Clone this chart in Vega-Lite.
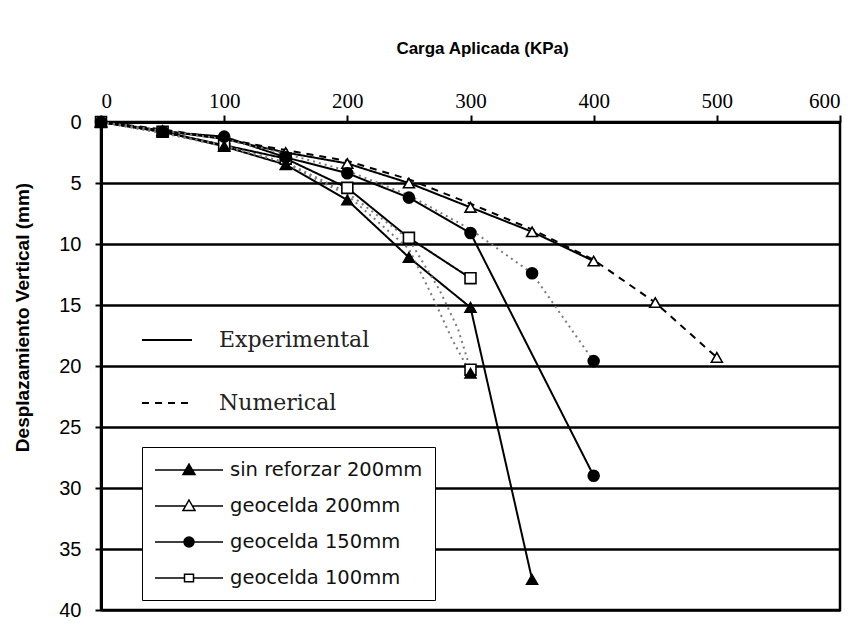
{
  "$schema": "https://vega.github.io/schema/vega-lite/v6.json",
  "width": 739,
  "height": 488,
  "autosize": "none",
  "padding": {"left": 101, "top": 122, "right": 28, "bottom": 17},
  "background": "white",
  "config": {
    "view": {"stroke": "black", "strokeWidth": 2.5},
    "axis": {"domainColor": "black", "tickColor": "black", "labelColor": "black", "titleColor": "black"}
  },
  "data": {
    "values": [
      {"serie": "geocelda 200mm", "tipo": "Experimental", "carga": 0, "desp": 0},
      {"serie": "geocelda 200mm", "tipo": "Experimental", "carga": 50, "desp": 0.7},
      {"serie": "geocelda 200mm", "tipo": "Experimental", "carga": 100, "desp": 1.4},
      {"serie": "geocelda 200mm", "tipo": "Experimental", "carga": 150, "desp": 2.5},
      {"serie": "geocelda 200mm", "tipo": "Experimental", "carga": 200, "desp": 3.4},
      {"serie": "geocelda 200mm", "tipo": "Experimental", "carga": 250, "desp": 5.0},
      {"serie": "geocelda 200mm", "tipo": "Experimental", "carga": 300, "desp": 7.0},
      {"serie": "geocelda 200mm", "tipo": "Experimental", "carga": 350, "desp": 9.0},
      {"serie": "geocelda 200mm", "tipo": "Experimental", "carga": 400, "desp": 11.4},
      {"serie": "geocelda 100mm", "tipo": "Experimental", "carga": 0, "desp": 0},
      {"serie": "geocelda 100mm", "tipo": "Experimental", "carga": 50, "desp": 0.8},
      {"serie": "geocelda 100mm", "tipo": "Experimental", "carga": 100, "desp": 1.9},
      {"serie": "geocelda 100mm", "tipo": "Experimental", "carga": 150, "desp": 3.0},
      {"serie": "geocelda 100mm", "tipo": "Experimental", "carga": 200, "desp": 5.4},
      {"serie": "geocelda 100mm", "tipo": "Experimental", "carga": 250, "desp": 9.5},
      {"serie": "geocelda 100mm", "tipo": "Experimental", "carga": 300, "desp": 12.8},
      {"serie": "sin reforzar 200mm", "tipo": "Experimental", "carga": 0, "desp": 0},
      {"serie": "sin reforzar 200mm", "tipo": "Experimental", "carga": 50, "desp": 0.8},
      {"serie": "sin reforzar 200mm", "tipo": "Experimental", "carga": 100, "desp": 2.0},
      {"serie": "sin reforzar 200mm", "tipo": "Experimental", "carga": 150, "desp": 3.5},
      {"serie": "sin reforzar 200mm", "tipo": "Experimental", "carga": 200, "desp": 6.4},
      {"serie": "sin reforzar 200mm", "tipo": "Experimental", "carga": 250, "desp": 11.1},
      {"serie": "sin reforzar 200mm", "tipo": "Experimental", "carga": 300, "desp": 15.2},
      {"serie": "sin reforzar 200mm", "tipo": "Experimental", "carga": 350, "desp": 37.5},
      {"serie": "geocelda 150mm", "tipo": "Experimental", "carga": 0, "desp": 0},
      {"serie": "geocelda 150mm", "tipo": "Experimental", "carga": 50, "desp": 0.8},
      {"serie": "geocelda 150mm", "tipo": "Experimental", "carga": 100, "desp": 1.2},
      {"serie": "geocelda 150mm", "tipo": "Experimental", "carga": 150, "desp": 2.9},
      {"serie": "geocelda 150mm", "tipo": "Experimental", "carga": 200, "desp": 4.2},
      {"serie": "geocelda 150mm", "tipo": "Experimental", "carga": 250, "desp": 6.2},
      {"serie": "geocelda 150mm", "tipo": "Experimental", "carga": 300, "desp": 9.1},
      {"serie": "geocelda 150mm", "tipo": "Experimental", "carga": 400, "desp": 29.0},
      {"serie": "geocelda 200mm", "tipo": "Numerical", "carga": 0, "desp": 0},
      {"serie": "geocelda 200mm", "tipo": "Numerical", "carga": 50, "desp": 0.6},
      {"serie": "geocelda 200mm", "tipo": "Numerical", "carga": 100, "desp": 1.4},
      {"serie": "geocelda 200mm", "tipo": "Numerical", "carga": 150, "desp": 2.3},
      {"serie": "geocelda 200mm", "tipo": "Numerical", "carga": 200, "desp": 3.2},
      {"serie": "geocelda 200mm", "tipo": "Numerical", "carga": 250, "desp": 4.7},
      {"serie": "geocelda 200mm", "tipo": "Numerical", "carga": 300, "desp": 6.7},
      {"serie": "geocelda 200mm", "tipo": "Numerical", "carga": 350, "desp": 8.8},
      {"serie": "geocelda 200mm", "tipo": "Numerical", "carga": 400, "desp": 11.3},
      {"serie": "geocelda 200mm", "tipo": "Numerical", "carga": 450, "desp": 14.8},
      {"serie": "geocelda 200mm", "tipo": "Numerical", "carga": 500, "desp": 19.3},
      {"serie": "geocelda 100mm", "tipo": "Numerical", "carga": 0, "desp": 0},
      {"serie": "geocelda 100mm", "tipo": "Numerical", "carga": 50, "desp": 0.9},
      {"serie": "geocelda 100mm", "tipo": "Numerical", "carga": 100, "desp": 2.0},
      {"serie": "geocelda 100mm", "tipo": "Numerical", "carga": 150, "desp": 3.3},
      {"serie": "geocelda 100mm", "tipo": "Numerical", "carga": 200, "desp": 5.8},
      {"serie": "geocelda 100mm", "tipo": "Numerical", "carga": 250, "desp": 9.6},
      {"serie": "geocelda 100mm", "tipo": "Numerical", "carga": 275, "desp": 13.8},
      {"serie": "geocelda 100mm", "tipo": "Numerical", "carga": 290, "desp": 17.0},
      {"serie": "geocelda 100mm", "tipo": "Numerical", "carga": 300, "desp": 20.3},
      {"serie": "sin reforzar 200mm", "tipo": "Numerical", "carga": 0, "desp": 0},
      {"serie": "sin reforzar 200mm", "tipo": "Numerical", "carga": 50, "desp": 0.9},
      {"serie": "sin reforzar 200mm", "tipo": "Numerical", "carga": 100, "desp": 1.9},
      {"serie": "sin reforzar 200mm", "tipo": "Numerical", "carga": 150, "desp": 3.4},
      {"serie": "sin reforzar 200mm", "tipo": "Numerical", "carga": 200, "desp": 6.0},
      {"serie": "sin reforzar 200mm", "tipo": "Numerical", "carga": 250, "desp": 10.4},
      {"serie": "sin reforzar 200mm", "tipo": "Numerical", "carga": 270, "desp": 14.5},
      {"serie": "sin reforzar 200mm", "tipo": "Numerical", "carga": 285, "desp": 17.8},
      {"serie": "sin reforzar 200mm", "tipo": "Numerical", "carga": 300, "desp": 20.6},
      {"serie": "geocelda 150mm", "tipo": "Numerical", "carga": 0, "desp": 0},
      {"serie": "geocelda 150mm", "tipo": "Numerical", "carga": 50, "desp": 0.7},
      {"serie": "geocelda 150mm", "tipo": "Numerical", "carga": 100, "desp": 1.4},
      {"serie": "geocelda 150mm", "tipo": "Numerical", "carga": 150, "desp": 2.6},
      {"serie": "geocelda 150mm", "tipo": "Numerical", "carga": 200, "desp": 4.0},
      {"serie": "geocelda 150mm", "tipo": "Numerical", "carga": 250, "desp": 6.0},
      {"serie": "geocelda 150mm", "tipo": "Numerical", "carga": 300, "desp": 8.8},
      {"serie": "geocelda 150mm", "tipo": "Numerical", "carga": 350, "desp": 12.4},
      {"serie": "geocelda 150mm", "tipo": "Numerical", "carga": 400, "desp": 19.6}
    ]
  },
  "encoding": {
    "x": {
      "field": "carga", "type": "quantitative",
      "scale": {"domain": [0, 600], "nice": false},
      "axis": {
        "orient": "top", "values": [0, 100, 200, 300, 400, 500, 600], "grid": false,
        "domainWidth": 3, "tickSize": 7, "tickWidth": 2,
        "labelFont": "Liberation Serif", "labelFontSize": 21, "labelPadding": 4,
        "title": "Carga Aplicada (KPa)", "titleFont": "Liberation Sans", "titleFontSize": 17,
        "titleFontWeight": "bold", "titleX": 381, "titlePadding": 33
      }
    },
    "y": {
      "field": "desp", "type": "quantitative",
      "scale": {"domain": [0, 40], "reverse": true, "nice": false},
      "axis": {
        "values": [0, 5, 10, 15, 20, 25, 30, 35, 40], "grid": true,
        "gridColor": "black", "gridWidth": 2.3, "gridOpacity": 1,
        "domainWidth": 3, "tickSize": 6, "tickWidth": 2,
        "labelFont": "Liberation Sans", "labelFontSize": 20, "labelPadding": 14,
        "title": "Desplazamiento Vertical (mm)", "titleFont": "Liberation Sans",
        "titleFontSize": 19, "titleFontWeight": "bold",
        "titleX": -79, "titleY": 195, "titleAlign": "center", "titleBaseline": "middle"
      }
    }
  },
  "layer": [
    {
      "transform": [{"filter": "datum.tipo == 'Experimental' || datum.serie == 'geocelda 200mm'"}],
      "mark": {"type": "line", "color": "black", "strokeWidth": 2},
      "encoding": {
        "detail": {"field": "serie"},
        "strokeDash": {
          "field": "tipo", "type": "nominal",
          "scale": {"domain": ["Experimental", "Numerical"], "range": [[1, 0], [7, 6]]},
          "legend": {
            "title": null, "orient": "none", "legendX": 40, "legendY": 192,
            "symbolType": "stroke", "symbolSize": 2500, "symbolStrokeColor": "black",
            "symbolStrokeWidth": 2, "labelFont": "DejaVu Serif", "labelFontSize": 22,
            "labelColor": "#222", "labelOffset": 26, "rowPadding": 26, "labelLimit": 300
          }
        }
      }
    },
    {
      "transform": [{"filter": "datum.tipo == 'Numerical' && datum.serie != 'geocelda 200mm'"}],
      "mark": {"type": "line", "color": "#7a7a7a", "strokeWidth": 2, "strokeDash": [2, 4]},
      "encoding": {"detail": {"field": "serie"}}
    },
    {
      "transform": [{"filter": "datum.tipo == 'Experimental' || (datum.carga % 50 == 0 && datum.desp > 12)"}],
      "mark": {"type": "point", "filled": true, "stroke": "black", "strokeWidth": 1.6, "size": 120, "opacity": 1},
      "encoding": {
        "shape": {
          "field": "serie", "type": "nominal",
          "scale": {"domain": ["sin reforzar 200mm", "geocelda 200mm", "geocelda 150mm", "geocelda 100mm"],
                    "range": ["triangle-up", "triangle-up", "circle", "square"]},
          "legend": null
        },
        "fill": {
          "field": "serie", "type": "nominal",
          "scale": {"domain": ["sin reforzar 200mm", "geocelda 200mm", "geocelda 150mm", "geocelda 100mm"],
                    "range": ["black", "white", "black", "white"]},
          "legend": null
        }
      }
    },
    {
      "transform": [{"filter": "datum.tipo == 'Experimental'"}],
      "mark": {"type": "point", "filled": true, "strokeWidth": 1.5, "size": 0, "opacity": 1},
      "encoding": {
        "shape": {
          "field": "serie", "type": "nominal",
          "scale": {"domain": ["sin reforzar 200mm", "geocelda 200mm", "geocelda 150mm", "geocelda 100mm"],
                    "range": [
                      "M-3.4,0H3.4M0,-0.6L0.6,0.45H-0.6Z",
                      "M-3.4,0H-0.4M0.4,0H3.4M0,-0.6L0.6,0.45H-0.6Z",
                      "M-3.4,0H3.4M0.5,0A0.5,0.5,0,1,1,-0.5,0A0.5,0.5,0,1,1,0.5,0Z",
                      "M-3.4,0H-0.45M0.45,0H3.4M-0.45,-0.38H0.45V0.38H-0.45Z"
                    ]},
          "legend": {
            "title": null, "orient": "none", "legendX": 41, "legendY": 325,
            "strokeColor": "black", "fillColor": "white", "padding": 12,
            "symbolSize": 400, "symbolOffset": 24, "symbolStrokeWidth": 1.5,
            "labelFont": "DejaVu Sans", "labelFontSize": 19.5, "labelColor": "#111",
            "labelOffset": 30, "rowPadding": 15, "labelLimit": 400
          }
        },
        "fill": {
          "field": "serie", "type": "nominal",
          "scale": {"domain": ["sin reforzar 200mm", "geocelda 200mm", "geocelda 150mm", "geocelda 100mm"],
                    "range": ["black", "white", "black", "white"]},
          "legend": {
            "title": null, "orient": "none", "legendX": 41, "legendY": 325,
            "strokeColor": "black", "fillColor": "white", "padding": 12,
            "symbolSize": 400, "symbolOffset": 24, "symbolStrokeWidth": 1.5,
            "labelFont": "DejaVu Sans", "labelFontSize": 19.5, "labelColor": "#111",
            "labelOffset": 30, "rowPadding": 15, "labelLimit": 400
          }
        },
        "stroke": {
          "field": "serie", "type": "nominal",
          "scale": {"domain": ["sin reforzar 200mm", "geocelda 200mm", "geocelda 150mm", "geocelda 100mm"],
                    "range": ["black", "black", "black", "black"]},
          "legend": {
            "title": null, "orient": "none", "legendX": 41, "legendY": 325,
            "strokeColor": "black", "fillColor": "white", "padding": 12,
            "symbolSize": 400, "symbolOffset": 24, "symbolStrokeWidth": 1.5,
            "labelFont": "DejaVu Sans", "labelFontSize": 19.5, "labelColor": "#111",
            "labelOffset": 30, "rowPadding": 15, "labelLimit": 400
          }
        }
      }
    }
  ],
  "resolve": {"scale": {"shape": "independent", "fill": "independent", "stroke": "independent"}}
}
